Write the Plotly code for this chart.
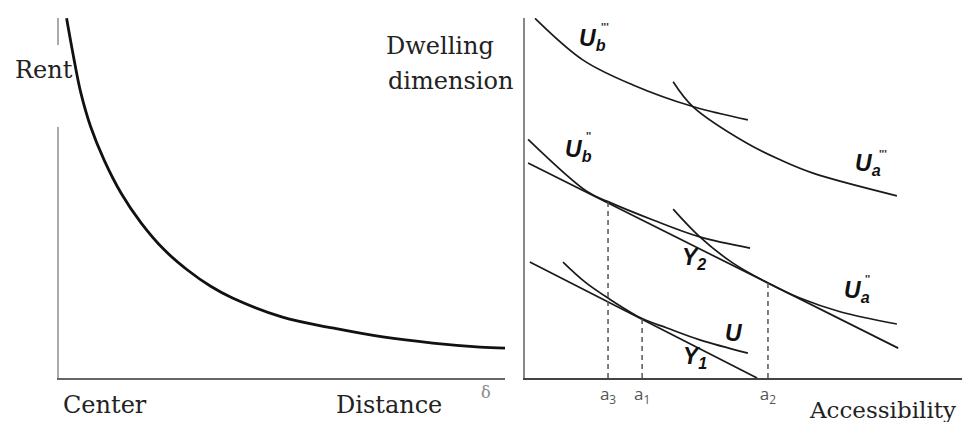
import plotly.graph_objects as go

# left panel: rent against distance from the center
distance = [0.17, 0.34, 0.49, 0.71, 1.01, 1.39, 1.84, 2.36, 2.88, 3.41, 3.89, 5.01, 6.13, 7.26, 8.38, 9.44, 10.0]
rent = [9.99, 8.83, 7.92, 6.98, 6.06, 5.14, 4.31, 3.56, 3.00, 2.54, 2.22, 1.69, 1.39, 1.14, 0.97, 0.86, 0.83]

# right panel: indifference curves (dwelling dimension vs accessibility)
ub3_x = [0.23, 1.33, 2.47, 3.84, 5.10]
ub3_y = [9.99, 8.83, 8.14, 7.54, 7.17]
ua3_x = [3.39, 3.84, 5.08, 5.84, 6.59, 8.51]
ua3_y = [8.23, 7.54, 6.52, 6.06, 5.69, 5.06]
ub2_x = [0.07, 1.42, 1.90, 2.93, 4.00, 5.15]
ub2_y = [6.63, 5.18, 4.90, 4.39, 3.92, 3.61]
ua2_x = [3.39, 4.00, 4.76, 5.56, 6.29, 7.21, 8.51]
ua2_y = [4.69, 3.92, 3.19, 2.64, 2.22, 1.84, 1.50]
u_x = [0.87, 1.37, 1.90, 2.68, 3.25, 4.00, 5.10]
u_y = [3.22, 2.67, 2.22, 1.65, 1.39, 1.06, 0.69]

# budget lines
y2_x = [0.07, 8.54]
y2_y = [5.97, 0.83]
y1_x = [0.11, 5.31]
y1_y = [3.22, 0.00]

# accessibility levels
acc_vals = [1.90, 2.68, 5.56]
acc_tops = [4.92, 1.65, 2.64]
acc_text = ['a<sub>3</sub>', 'a<sub>1</sub>', 'a<sub>2</sub>']

# curve labels: (text, primes, x, y, prime x, prime y)
labels = [('U<sub>b</sub>', "'''", 1.20, 9.39, 1.82, 9.74),
          ('U<sub>b</sub>', "''", 0.88, 6.33, 1.46, 6.71),
          ('U<sub>a</sub>', "'''", 7.50, 5.92, 8.19, 6.21),
          ('U<sub>a</sub>', "''", 7.25, 2.39, 7.86, 2.74),
          ('Y<sub>2</sub>', '', 3.55, 3.33, 0, 0),
          ('U', '', 4.54, 1.25, 0, 0),
          ('Y<sub>1</sub>', '', 3.58, 0.56, 0, 0)]

W, H = 962, 422


def px(x):
    return x / W


def py(y):
    return 1 - y / H


curve = dict(color='#1a1a1a', width=1.7)
data = [go.Scatter(x=distance, y=rent, mode='lines', line_shape='spline',
                   line=dict(color='#111', width=2.8), xaxis='x', yaxis='y')]
for xs, ys in [(ub3_x, ub3_y), (ua3_x, ua3_y), (ub2_x, ub2_y), (ua2_x, ua2_y), (u_x, u_y)]:
    data.append(go.Scatter(x=xs, y=ys, mode='lines', line_shape='spline',
                           line=curve, xaxis='x2', yaxis='y2'))
for xs, ys in [(y2_x, y2_y), (y1_x, y1_y)]:
    data.append(go.Scatter(x=xs, y=ys, mode='lines', line=curve,
                           xaxis='x2', yaxis='y2'))
for a, top in zip(acc_vals, acc_tops):
    data.append(go.Scatter(x=[a, a], y=[0, top], mode='lines',
                           line=dict(color='#555', width=1.5, dash='5px,4px'),
                           xaxis='x2', yaxis='y2'))

serif = dict(family='DejaVu Serif', size=24, color='#222')
ann = [dict(text='Rent', x=px(13), y=py(70)),
       dict(text='Dwelling', x=px(384), y=py(46)),
       dict(text='dimension', x=px(386), y=py(81)),
       dict(text='Center', x=px(61), y=py(405)),
       dict(text='Distance', x=px(334), y=py(405)),
       dict(text='Accessibility', x=px(807), y=py(410), font=dict(serif, size=23))]
for a in ann:
    a.update(xref='paper', yref='paper', xanchor='left', yanchor='middle', showarrow=False)
    a.setdefault('font', serif)
ann.append(dict(text='δ', x=px(486), y=py(404), xref='paper', yref='paper',
                showarrow=False, font=dict(family='DejaVu Serif', size=16, color='#888')))

bold = dict(family='Liberation Sans', size=23, color='#111')
for txt, pr, lx, ly, prx, pry in labels:
    ann.append(dict(text='<b><i>' + txt + '</i></b>', x=lx, y=ly, xref='x2', yref='y2',
                    xanchor='left', yanchor='middle', showarrow=False, font=bold))
    if pr:
        ann.append(dict(text='<b>' + pr + '</b>', x=prx, y=pry, xref='x2', yref='y2',
                        showarrow=False, font=dict(family='Liberation Sans', size=11, color='#333')))

ydom = [44 / H, 404 / H]
axis = dict(range=[0, 10], showgrid=False, zeroline=False, showline=True,
            linewidth=2, ticks='', showticklabels=False, fixedrange=True)

layout = go.Layout(
    width=W, height=H, margin=dict(l=0, r=0, t=0, b=0),
    paper_bgcolor='white', plot_bgcolor='white', showlegend=False,
    xaxis=dict(axis, domain=[59 / W, 505 / W], linecolor='#666', anchor='y'),
    yaxis=dict(axis, domain=ydom, linecolor='#aaa', anchor='x'),
    xaxis2=dict(axis, domain=[525 / W, 1], linecolor='#444', anchor='y2',
                showticklabels=True, tickvals=acc_vals, ticktext=acc_text,
                ticklabelstandoff=0,
                tickfont=dict(family='Open Sans', size=17, color='#555')),
    yaxis2=dict(axis, domain=ydom, linecolor='#888', anchor='x2'),
    annotations=ann,
    shapes=[dict(type='rect', xref='paper', yref='paper', layer='above',
                 x0=px(53), x1=px(65), y0=py(127), y1=py(45),
                 fillcolor='white', line=dict(width=0))])

fig = go.Figure(data=data, layout=layout)
fig.write_html('out.html', config={'displayModeBar': False},
               post_script="document.body.style.margin='0';")
